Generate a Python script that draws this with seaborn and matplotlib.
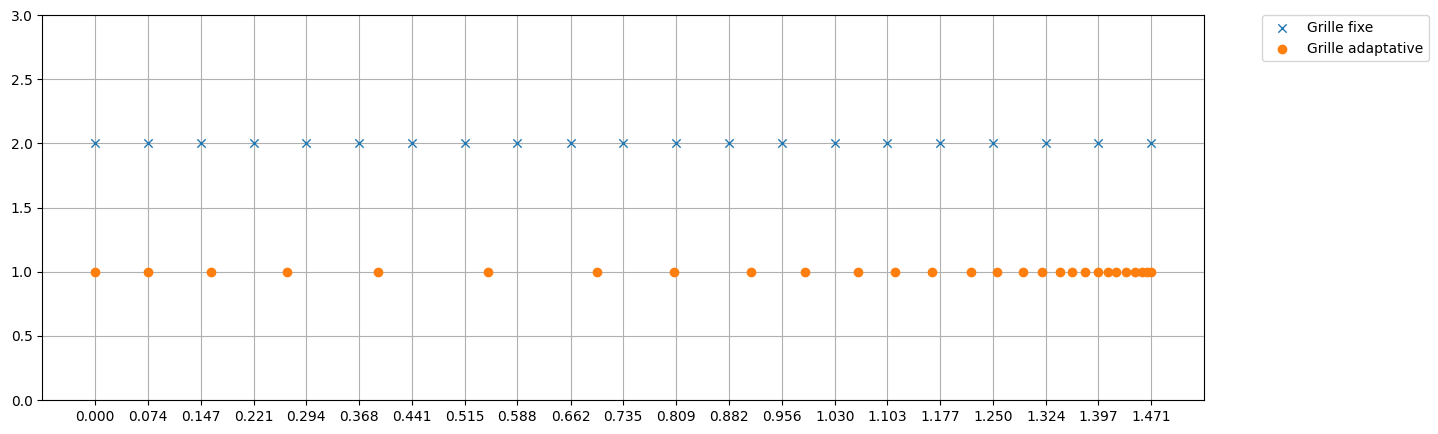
import numpy as np
import pandas as pd
import seaborn as sns
import matplotlib
matplotlib.use("Agg")
import matplotlib.pyplot as plt

# Grille fixe : 21 points reguliers
grille_fixe = [0.000, 0.074, 0.147, 0.221, 0.294, 0.368, 0.441, 0.515, 0.588, 0.662, 0.735,
               0.809, 0.882, 0.956, 1.030, 1.103, 1.177, 1.250, 1.324, 1.397, 1.471]
niveau_fixe = 2.0

# Grille adaptative : resserree vers la droite
grille_adapt = [0.000, 0.074, 0.162, 0.267, 0.394, 0.547, 0.699, 0.806, 0.913, 0.988,
                1.062, 1.114, 1.166, 1.219, 1.256, 1.292, 1.318, 1.343, 1.361, 1.379,
                1.397, 1.410, 1.422, 1.435, 1.448, 1.458, 1.465, 1.471]
niveau_adapt = 1.0

tick_labels = ["%.3f" % v for v in grille_fixe]

df_fixe = pd.DataFrame({"x": grille_fixe, "y": [niveau_fixe] * len(grille_fixe)})
df_adapt = pd.DataFrame({"x": grille_adapt, "y": [niveau_adapt] * len(grille_adapt)})

fig = plt.figure(figsize=(14.38, 4.34), dpi=100)
ax = fig.add_axes([42.3 / 1438, 34 / 434, (1204.3 - 42.3) / 1438, 385 / 434])

sns.scatterplot(data=df_fixe, x="x", y="y", marker="x", color="C0", s=36,
                linewidth=1.0, label="Grille fixe", ax=ax, zorder=2)
sns.scatterplot(data=df_adapt, x="x", y="y", marker="o", color="C1", s=36,
                edgecolor="C1", linewidth=1.0, label="Grille adaptative", ax=ax, zorder=2)

ax.set_ylim(0, 3)
ax.set_xticks(grille_fixe)
ax.set_xticklabels(tick_labels)
ax.set_xlabel("")
ax.set_ylabel("")
ax.grid(True)
ax.legend(bbox_to_anchor=(1.05, 1), loc="upper left", borderaxespad=0)

fig.savefig("out.png", dpi=100)
